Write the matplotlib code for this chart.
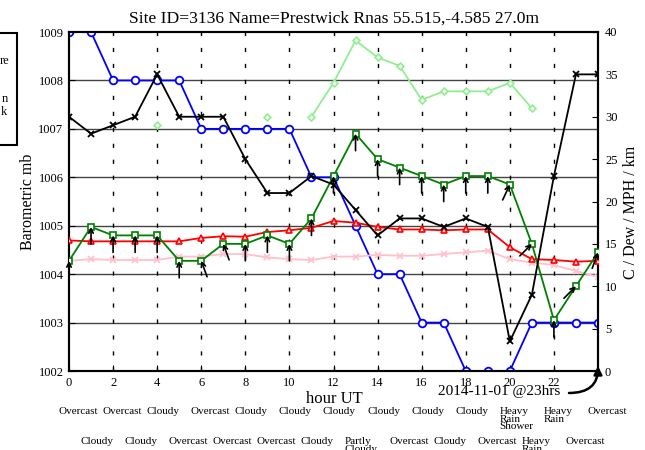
import numpy as np
import matplotlib
matplotlib.use("Agg")
import matplotlib.pyplot as plt
from matplotlib.patches import Rectangle

plt.rcParams['font.family'] = ['Liberation Serif', 'DejaVu Serif']

# 時刻 (hour UT)
hours = np.arange(0, 25)

# 気圧 mb (左軸)
pressure = [1009, 1009, 1008, 1008, 1008, 1008, 1007, 1007, 1007, 1007, 1007, 1006, 1006,
            1005, 1004, 1004, 1003, 1003, 1002, 1002, 1002, 1003, 1003, 1003, 1003]

# 右軸の系列
visibility = [30, 28, 29, 30, 35, 30, 30, 30, 25, 21, 21, 23, 22,
              19, 16, 18, 18, 17, 18, 17, 3.5, 9, 23, 35, 35]
temp = [15.4, 15.3, 15.3, 15.3, 15.3, 15.3, 15.7, 15.9, 15.85, 16.4, 16.6, 16.9, 17.7,
        17.5, 17.0, 16.7, 16.7, 16.6, 16.7, 16.7, 14.6, 13.2, 13.1, 12.9, 13.0]
dew = [13.0, 13.2, 13.1, 13.1, 13.1, 13.5, 13.5, 13.8, 13.8, 13.4, 13.2, 13.1, 13.5,
       13.5, 13.7, 13.6, 13.6, 13.8, 14.0, 14.2, 13.2, 12.8, 12.5, 11.8, 11.1]
wind = [13, 17, 16, 16, 16, 13, 13, 15, 15, 16, 15, 18, 23,
        28, 25, 24, 23, 22, 23, 23, 22, 15, 6, 10, 14]
gust = [np.nan, np.nan, np.nan, np.nan, 29, np.nan, np.nan, np.nan, np.nan, 30, np.nan, 30, 34,
        39, 37, 36, 32, 33, 33, 33, 34, 31, np.nan, np.nan, np.nan]
# 風向 (度, 風の吹いてくる方向)
wind_dir = [180, 180, 180, 180, 180, 180, 160, 160, 180, 180, 180, 180, 180,
            180, 180, 180, 180, 180, 180, 180, 205, 225, 180, 225, 200]

# 天気
weather_even = ["Overcast", "Overcast", "Cloudy", "Overcast", "Cloudy", "Cloudy", "Cloudy",
                "Cloudy", "Cloudy", "Cloudy", "Heavy\nRain\nShower", "Heavy\nRain", "Overcast"]
weather_odd = ["Cloudy", "Cloudy", "Overcast", "Overcast", "Overcast", "Cloudy",
               "Partly\nCloudy", "Overcast", "Cloudy", "Overcast", "Heavy\nRain", "Overcast"]

W, H = 645, 450
fig = plt.figure(figsize=(6.45, 4.5), dpi=100)
ax = fig.add_axes([69 / W, 79 / H, 529 / W, 339 / H])
ax2 = ax.twinx()

ax.set_xlim(0, 24)
ax.set_ylim(1002, 1009)
ax2.set_ylim(0, 40)

# グリッド
for p in range(1003, 1009):
    ax.axhline(p, color='#444444', lw=1.0, zorder=1)
for h in range(2, 24, 2):
    ax.axvline(h, color='black', lw=1.0, ls=(0, (3, 8.5)), zorder=1)

ax.plot(hours, pressure, color='blue', lw=1.3, marker='o', ms=5.5, mfc='white',
        mec='blue', mew=1.3, zorder=3)

ax2.plot(hours, dew, color='pink', lw=1.3, marker='x', ms=5, mew=1.2, zorder=2)
ax2.plot(hours, temp, color='red', lw=1.3, marker='^', ms=5, mfc='#ffdddd', mec='red', mew=1.2, zorder=3)
ax2.plot(hours, gust, color='lightgreen', lw=1.3, marker='D', ms=3.5, mfc='white',
         mec='lightgreen', mew=1.2, zorder=2)
ax2.plot(hours, wind, color='green', lw=1.3, marker='s', ms=5, mfc='white',
         mec='green', mew=1.2, zorder=3)
ax2.plot(hours, visibility, color='black', lw=1.3, marker='x', ms=5, mew=1.3, zorder=4)

# 風向の矢印
arrow_len = 17
for h, w, d in zip(hours, wind, wind_dir):
    rad = np.deg2rad(d)
    dx = arrow_len * np.sin(rad)
    dy = arrow_len * np.cos(rad)
    ax2.annotate("", xy=(h, w), xytext=(dx, dy), textcoords='offset pixels',
                 arrowprops=dict(arrowstyle='->', color='black', lw=1.2,
                                 shrinkA=0, shrinkB=0, mutation_scale=8), zorder=5)

ax.set_xticks(range(0, 24, 2))
ax.set_yticks(range(1002, 1010))
ax2.set_yticks(range(0, 45, 5))
ax.tick_params(direction='in', length=4, labelsize=9, pad=4)
ax2.tick_params(direction='in', length=4, labelsize=9, pad=5)
for a in (ax, ax2):
    for s in a.spines.values():
        s.set_linewidth(1.5)

fig.text(28 / W, 1 - 202 / H, "Barometric mb", fontsize=11.5, rotation=90,
         ha='center', va='center')
fig.text(631 / W, 1 - 212 / H, "C / Dew / MPH / km", fontsize=11.5, rotation=90,
         ha='center', va='center')
fig.text(334 / W, 1 - 399 / H, "hour UT", fontsize=12, ha='center', va='center')
fig.text(334 / W, 1 - 19 / H, "Site ID=3136 Name=Prestwick Rnas 55.515,-4.585 27.0m",
         fontsize=12.6, ha='center', va='center')

# 日付の注記
fig.text(499 / W, 1 - 391 / H, "2014-11-01 @23hrs", fontsize=11, ha='center', va='center')
fig.patches.append(matplotlib.patches.FancyArrowPatch(
    posA=(569 / W, 1 - 393 / H), posB=(598 / W, 1 - 366 / H), transform=fig.transFigure,
    arrowstyle='-|>', color='black', lw=1.8, mutation_scale=12,
    connectionstyle='angle3,angleA=0,angleB=90', shrinkA=0, shrinkB=0))

# 天気ラベル
for i, lab in enumerate(weather_even):
    x = ax.transData.transform((i * 2 - 0.48, 0))[0] / W
    fig.text(x, 1 - 407 / H, lab, fontsize=8, ha='left', va='top', linespacing=0.8)
for i, lab in enumerate(weather_odd):
    x = ax.transData.transform((i * 2 + 1 - 0.48, 0))[0] / W
    fig.text(x, 1 - 437 / H, lab, fontsize=8, ha='left', va='top', linespacing=0.8)

# 左側の凡例ボックス(一部のみ見える)
fig.patches.append(Rectangle((-20 / W, 1 - 145 / H), 37 / W, 112 / H,
                             transform=fig.transFigure, fill=False, lw=1.5, ec='black'))
fig.text(9 / W, 1 - 61 / H, "re", fontsize=9, ha='right', va='center')
fig.text(8 / W, 1 - 99 / H, "n", fontsize=9, ha='right', va='center')
fig.text(7 / W, 1 - 112 / H, "k", fontsize=9, ha='right', va='center')

fig.savefig("out.png", dpi=100)
